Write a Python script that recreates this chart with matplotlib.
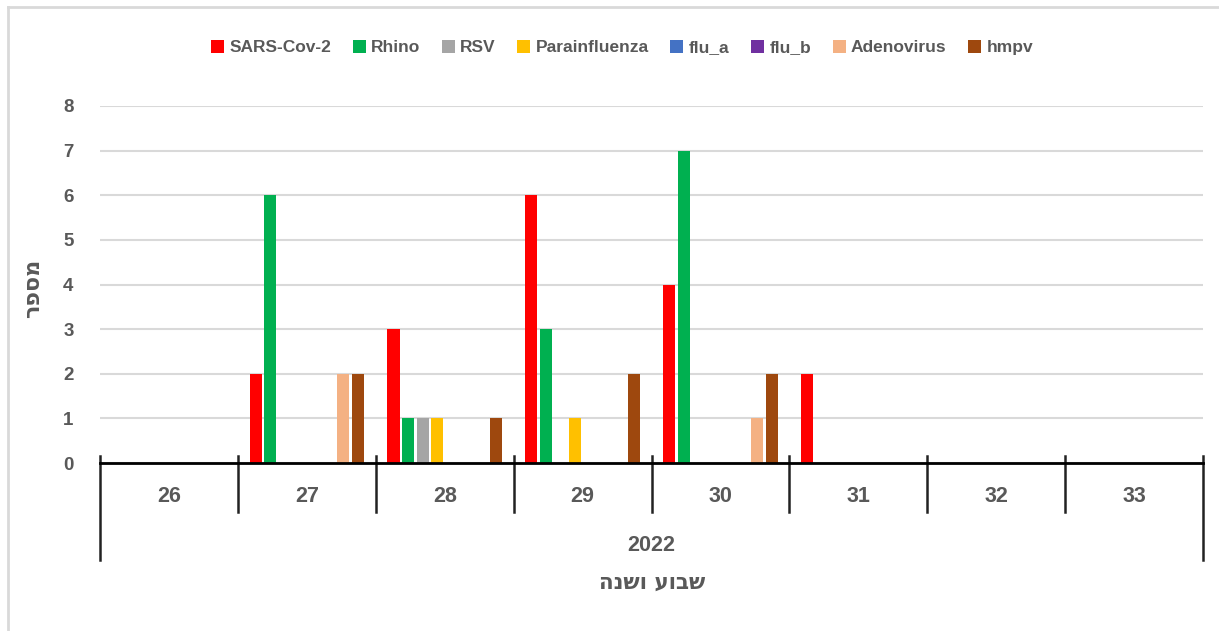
import numpy as np
import matplotlib.pyplot as plt
from matplotlib.lines import Line2D

plt.rcParams['font.family'] = ['Liberation Sans', 'DejaVu Sans']

WEEKS = ['26', '27', '28', '29', '30', '31', '32', '33']
YEAR = '2022'
SERIES = ['SARS-Cov-2', 'Rhino', 'RSV', 'Parainfluenza', 'flu_a', 'flu_b', 'Adenovirus', 'hmpv']
COLORS = ['#ff0000', '#00b050', '#a5a5a5', '#ffc000', '#4472c4', '#7030a0', '#f4b183', '#9e480e']

SARS = [0, 2, 3, 6, 4, 2, 0, 0]
RHINO = [0, 6, 1, 3, 7, 0, 0, 0]
RSV = [0, 0, 1, 0, 0, 0, 0, 0]
PARA = [0, 0, 1, 1, 0, 0, 0, 0]
FLU_A = [0, 0, 0, 0, 0, 0, 0, 0]
FLU_B = [0, 0, 0, 0, 0, 0, 0, 0]
ADENO = [0, 2, 0, 0, 1, 0, 0, 0]
HMPV = [0, 2, 1, 2, 2, 0, 0, 0]

VALUES = [SARS, RHINO, RSV, PARA, FLU_A, FLU_B, ADENO, HMPV]

TXT = '#595959'

fig = plt.figure(figsize=(12.19, 6.31), dpi=100)
ax = fig.add_axes([100 / 1219, 1 - 463 / 631, 1103 / 1219, 357 / 631])

x = np.arange(len(WEEKS))
pitch = 0.106
width = 0.088
for i, (name, vals, col) in enumerate(zip(SERIES, VALUES, COLORS)):
    ax.bar(x + (i - 3.5) * pitch, vals, width, color=col, label=name, zorder=3)

ax.set_xlim(-0.5, len(WEEKS) - 0.5)
ax.set_ylim(0, 8)
ax.set_yticks(range(9))
ax.yaxis.grid(True, color='#d9d9d9', linewidth=1.5, zorder=0)
ax.tick_params(axis='y', length=0, pad=19, labelsize=13.5, labelcolor=TXT)
for lab in ax.get_yticklabels():
    lab.set_fontweight('bold')
for s in ['top', 'right', 'left']:
    ax.spines[s].set_visible(False)
ax.spines['bottom'].set_linewidth(2)
ax.spines['bottom'].set_zorder(4)
ax.set_xticks([])

# multi-level category axis
trans = ax.get_xaxis_transform()
for k in range(len(WEEKS) + 1):
    xb = k - 0.5
    bottom = -0.272 if k in (0, len(WEEKS)) else -0.137
    ax.plot([xb, xb], [0.02, bottom], transform=trans, color='#222222',
            linewidth=1.8, clip_on=False)
for k, w in enumerate(WEEKS):
    ax.text(k, -0.095, w, transform=trans, ha='center', va='center',
            fontsize=15.5, fontweight='bold', color=TXT)
ax.text((len(WEEKS) - 1) / 2, -0.23, YEAR, transform=trans, ha='center',
        va='center', fontsize=15.5, fontweight='bold', color=TXT)

# hebrew labels (visual order)
fig.text(652 / 1219, 1 - 583 / 631, 'שבוע ושנה'[::-1], ha='center', va='center',
         fontsize=15.5, fontweight='bold', color=TXT, family=['DejaVu Sans'])
fig.text(33 / 1219, 1 - 288 / 631, 'מספר'[::-1], ha='center', va='center',
         rotation=90, fontsize=16, fontweight='bold', color=TXT, family=['DejaVu Sans'])

fig.legend(loc='center', bbox_to_anchor=(622 / 1219, 1 - 47.5 / 631), ncol=8,
           frameon=False, handlelength=0.75, handleheight=0.75, handletextpad=0.3,
           columnspacing=1.25, prop={'size': 12.5, 'weight': 'bold'}, labelcolor=TXT)

# outer frame
fig.add_artist(Line2D([8 / 1219, 8 / 1219], [0, 1 - 7 / 631], color='#d9d9d9', linewidth=2))
fig.add_artist(Line2D([8 / 1219, 1], [1 - 7 / 631, 1 - 7 / 631], color='#d9d9d9', linewidth=2))

fig.savefig('out.png', dpi=100)
